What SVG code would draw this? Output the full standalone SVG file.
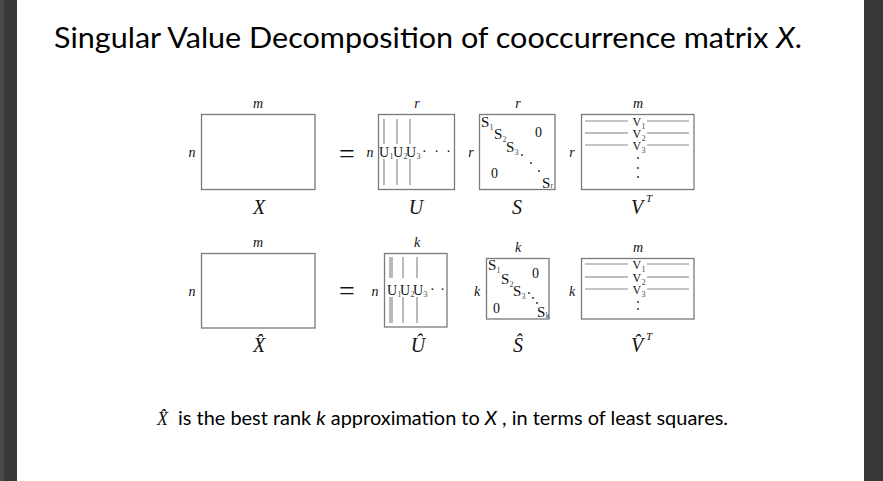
<svg xmlns="http://www.w3.org/2000/svg" width="883" height="481" viewBox="0 0 883 481">
<style>
.box{fill:#fff;stroke:#7a7a7a;stroke-width:1.3}
.ln{stroke:#8a8a8a;stroke-width:1.2}
.ln2{stroke:#a8a8a8;stroke-width:1.6}
.dim{font-family:"Liberation Serif",serif;font-style:italic;font-size:14px;fill:#111;text-anchor:middle}
.lbl{font-family:"Liberation Serif",serif;font-style:italic;font-size:20px;fill:#111;text-anchor:middle}
.sup{font-family:"Liberation Serif",serif;font-style:italic;font-size:11px;fill:#111}
.el{font-family:"Liberation Serif",serif;font-size:14px;fill:#111}
.es{font-family:"Liberation Serif",serif;font-size:15px;fill:#111}
.ev{font-family:"Liberation Serif",serif;font-size:12px;fill:#111}
.sub{font-family:"Liberation Serif",serif;font-size:8px;fill:#3a4a5e}
.eq{font-family:"Liberation Serif",serif;font-size:28px;fill:#111;text-anchor:middle}
.dot{fill:#222}
.title{font-family:Lato,"Noto Sans",sans-serif;font-size:28px;fill:#000}
.note{font-family:Lato,"Noto Sans",sans-serif;font-size:18.5px;fill:#000}
</style>
<rect x="0" y="0" width="883" height="481" fill="#fff"/>
<rect x="0" y="0" width="17" height="481" fill="#383838"/>
<rect x="0" y="0" width="4" height="481" fill="#4a4a4a"/>
<rect x="864" y="0" width="19" height="481" fill="#383838"/>

<text class="title" x="54" y="48" textLength="748" lengthAdjust="spacingAndGlyphs">Singular Value Decomposition of cooccurrence matrix <tspan font-style="italic">X</tspan>.</text>

<!-- Row 1 -->
<g id="X">
<rect class="box" x="201.5" y="114.5" width="113.5" height="75"/>
<text class="dim" x="258" y="108">m</text>
<text class="dim" x="192" y="157">n</text>
<text class="lbl" x="259" y="214">X</text>
</g>
<g id="eq1"><text class="eq" x="347" y="163">=</text></g>
<g id="U">
<rect class="box" x="378.5" y="114.5" width="76" height="75"/>
<text class="dim" x="417" y="108">r</text>
<text class="dim" x="370" y="157">n</text>
<line class="ln" x1="384" y1="119" x2="384" y2="144"/><line class="ln" x1="384" y1="159" x2="384" y2="185"/>
<line class="ln" x1="397" y1="119" x2="397" y2="144"/><line class="ln" x1="397" y1="159" x2="397" y2="185"/>
<line class="ln" x1="410" y1="119" x2="410" y2="144"/><line class="ln" x1="410" y1="159" x2="410" y2="185"/>
<text class="el" x="379" y="157">U</text><text class="sub" x="389.5" y="159">1</text>
<text class="el" x="393" y="157">U</text><text class="sub" x="403.5" y="159">2</text>
<text class="el" x="406" y="157">U</text><text class="sub" x="416.5" y="159">3</text>
<text class="el" x="422" y="156" letter-spacing="2">· · ·</text>
<text class="lbl" x="416" y="214">U</text>
</g>
<g id="S">
<rect class="box" x="479.5" y="114.5" width="75.5" height="75"/>
<text class="dim" x="518" y="108">r</text>
<text class="dim" x="471" y="157">r</text>
<text class="es" x="481" y="127">S</text><text class="sub" x="489.5" y="130">1</text>
<text class="es" x="494" y="139">S</text><text class="sub" x="502.5" y="142">2</text>
<text class="es" x="506" y="152">S</text><text class="sub" x="514.5" y="155">3</text>
<circle class="dot" cx="522" cy="155" r="0.9"/><circle class="dot" cx="531" cy="163" r="0.9"/><circle class="dot" cx="539" cy="171" r="0.9"/>
<text class="es" x="542" y="188">S</text><text class="sub" x="550.5" y="188">r</text>
<text class="el" x="535" y="137">0</text>
<text class="el" x="491" y="178">0</text>
<text class="lbl" x="517" y="214">S</text>
</g>
<g id="VT">
<rect class="box" x="581.5" y="114.5" width="112.5" height="75"/>
<text class="dim" x="638" y="108">m</text>
<text class="dim" x="572" y="157">r</text>
<line class="ln" x1="585" y1="121" x2="628" y2="121"/><line class="ln" x1="647" y1="121" x2="689" y2="121"/>
<line class="ln2" x1="585" y1="133" x2="628" y2="133"/><line class="ln2" x1="647" y1="133" x2="689" y2="133"/>
<line class="ln" x1="585" y1="145" x2="628" y2="145"/><line class="ln" x1="647" y1="145" x2="689" y2="145"/>
<text class="ev" x="632.5" y="125.5">V</text><text class="sub" x="641.5" y="128.5">1</text>
<text class="ev" x="632.5" y="137.5">V</text><text class="sub" x="641.5" y="140.5">2</text>
<text class="ev" x="632.5" y="149.5">V</text><text class="sub" x="641.5" y="152.5">3</text>
<circle class="dot" cx="638" cy="158" r="0.9"/><circle class="dot" cx="638" cy="168" r="0.9"/><circle class="dot" cx="638" cy="177" r="0.9"/>
<text class="lbl" x="637" y="214">V</text><text class="sup" x="646" y="202">T</text>
</g>

<!-- Row 2 -->
<g id="Xhat">
<rect class="box" x="201.5" y="253.5" width="113.5" height="74.5"/>
<text class="dim" x="258" y="247">m</text>
<text class="dim" x="192" y="296">n</text>
<text class="lbl" x="259" y="352">X̂</text>
</g>
<g id="eq2"><text class="eq" x="347" y="300">=</text></g>
<g id="Uhat">
<rect class="box" x="384.5" y="253.5" width="62.5" height="73.5"/>
<text class="dim" x="417" y="247">k</text>
<text class="dim" x="375" y="296">n</text>
<line class="ln" x1="390" y1="257" x2="390" y2="278"/><line class="ln" x1="392" y1="257" x2="392" y2="278"/>
<line class="ln" x1="390" y1="297" x2="390" y2="323"/><line class="ln" x1="392" y1="297" x2="392" y2="323"/>
<line class="ln" x1="403" y1="257" x2="403" y2="278"/><line class="ln" x1="403" y1="297" x2="403" y2="323"/>
<line class="ln" x1="417" y1="257" x2="417" y2="278"/><line class="ln" x1="417" y1="297" x2="417" y2="323"/>
<text class="el" x="387" y="295">U</text><text class="sub" x="397.5" y="297">1</text>
<text class="el" x="400" y="295">U</text><text class="sub" x="410.5" y="297">2</text>
<text class="el" x="413" y="295">U</text><text class="sub" x="423.5" y="297">3</text>
<text class="el" x="430" y="294" letter-spacing="1">· ·</text>
<text class="lbl" x="418" y="352">Û</text>
</g>
<g id="Shat">
<rect class="box" x="486.5" y="258.5" width="62.5" height="60.5"/>
<text class="dim" x="518" y="252">k</text>
<text class="dim" x="477" y="296">k</text>
<text class="es" x="488" y="270">S</text><text class="sub" x="496.5" y="273">1</text>
<text class="es" x="501" y="284">S</text><text class="sub" x="509.5" y="287">2</text>
<text class="es" x="513" y="296">S</text><text class="sub" x="521.5" y="299">3</text>
<circle class="dot" cx="529" cy="293" r="0.9"/><circle class="dot" cx="533" cy="298" r="0.9"/><circle class="dot" cx="537" cy="303" r="0.9"/>
<text class="es" x="537" y="317">S</text><text class="sub" x="545.5" y="318">k</text>
<text class="el" x="532" y="278">0</text>
<text class="el" x="493" y="313">0</text>
<text class="lbl" x="518" y="352">Ŝ</text>
</g>
<g id="VThat">
<rect class="box" x="581.5" y="258.5" width="112.5" height="60.5"/>
<text class="dim" x="638" y="252">m</text>
<text class="dim" x="572" y="296">k</text>
<line class="ln" x1="585" y1="264" x2="628" y2="264"/><line class="ln" x1="647" y1="264" x2="689" y2="264"/>
<line class="ln2" x1="585" y1="277" x2="628" y2="277"/><line class="ln2" x1="647" y1="277" x2="689" y2="277"/>
<line class="ln" x1="585" y1="289" x2="628" y2="289"/><line class="ln" x1="647" y1="289" x2="689" y2="289"/>
<text class="ev" x="632.5" y="268.5">V</text><text class="sub" x="641.5" y="271.5">1</text>
<text class="ev" x="632.5" y="281.5">V</text><text class="sub" x="641.5" y="284.5">2</text>
<text class="ev" x="632.5" y="293.5">V</text><text class="sub" x="641.5" y="296.5">3</text>
<circle class="dot" cx="638" cy="302" r="0.9"/><circle class="dot" cx="638" cy="309" r="0.9"/>
<text class="lbl" x="637" y="352">V̂</text><text class="sup" x="646" y="340">T</text>
</g>

<text x="157" y="425" font-family="'Liberation Serif',serif" font-style="italic" font-size="18" fill="#111">X̂</text>
<text class="note" x="178" y="425" textLength="550" lengthAdjust="spacingAndGlyphs">is the best rank <tspan font-style="italic">k</tspan> approximation to <tspan font-style="italic">X</tspan> , in terms of least squares.</text>
</svg>
